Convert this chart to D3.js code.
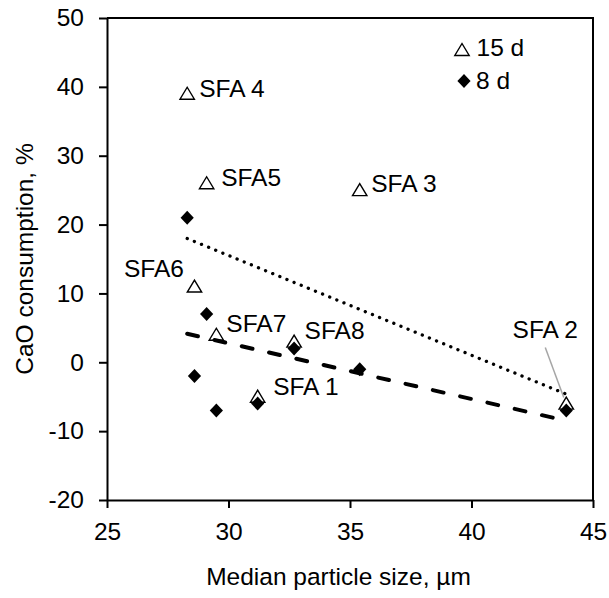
<!DOCTYPE html>
<html>
<head>
<meta charset="utf-8">
<script src="https://cdn.jsdelivr.net/npm/d3@7"></script>
<style>
  body { margin: 0; background: #fff; }
  text { font-family: "Liberation Sans", Arial, sans-serif; fill: #000; }
</style>
</head>
<body>
<div id="chart-area"></div>
<script>
const margin = {top:18, right:16, bottom:98, left:107};
const width = 609 - margin.left - margin.right;
const height = 598 - margin.top - margin.bottom;

// data
const samples    = ["SFA 1","SFA 2","SFA 3","SFA 4","SFA5","SFA6","SFA7","SFA8"];
const medianSize = [31.2, 43.9, 35.4, 28.3, 29.1, 28.6, 29.5, 32.7];
const cao15d     = [-5, -6, 25, 39, 26, 11, 4, 3];
const cao8d      = [-6, -7, -1, 21, 7, -2, -7, 2];
const xTicks = [25, 30, 35, 40, 45];
const yTicks = [-20, -10, 0, 10, 20, 30, 40, 50];
const seriesNames = ["15 d", "8 d"];

// label placement (pixels from the 15 d marker)
const labelPos = {
  "SFA 1": {dx:15.5, dy:-1.5, anchor:"start"},
  "SFA 2": {dx:-21, dy:-66, anchor:"middle", leader:[[-21,-56],[-2.5,-6]]},
  "SFA 3": {dx:11.5, dy:1.5, anchor:"start"},
  "SFA 4": {dx:12, dy:3.5, anchor:"start"},
  "SFA5":  {dx:14.5, dy:2.5, anchor:"start"},
  "SFA6":  {dx:-10.5, dy:-9.5, anchor:"end"},
  "SFA7":  {dx:10, dy:-2.5, anchor:"start"},
  "SFA8":  {dx:10.5, dy:-2.5, anchor:"start"}
};

const svg = d3.select("#chart-area").append("svg")
    .attr("width", 609)
    .attr("height", 598);
const g = svg.append("g")
    .attr("transform", "translate(" + margin.left + "," + margin.top + ")");

const x = d3.scaleLinear().domain([25,45]).range([0,width]);
const y = d3.scaleLinear().domain([-20,50]).range([height,0]);

const fs = "24.5px";

// axes (plain hyphen minus like the original)
const fmt = d => String(d);
const xAxis = g.append("g")
    .attr("transform", "translate(0," + height + ")")
    .call(d3.axisBottom(x).tickValues(xTicks).tickFormat(fmt).tickSize(8).tickSizeOuter(0).tickPadding(15));
const yAxis = g.append("g")
    .call(d3.axisLeft(y).tickValues(yTicks).tickFormat(fmt).tickSize(8).tickSizeOuter(0).tickPadding(15));
[xAxis, yAxis].forEach(a => {
  a.selectAll("path, line").attr("stroke", "#000").attr("stroke-width", 2);
  a.selectAll("text").style("font-size", fs).attr("fill", "#000")
    .style("font-family", "'Liberation Sans', Arial, sans-serif");
});

// top and right border
g.append("path")
  .attr("d", "M0,0H" + width + "V" + height)
  .attr("fill", "none").attr("stroke", "#000").attr("stroke-width", 2);

// axis titles
svg.append("text")
  .attr("x", 338.5).attr("y", 585)
  .attr("text-anchor", "middle").style("font-size", fs)
  .text("Median particle size, µm");
svg.append("text")
  .attr("transform", "translate(33," + (margin.top + height/2) + ") rotate(-90)")
  .attr("text-anchor", "middle").style("font-size", fs)
  .text("CaO consumption, %");

// linear trend lines
function trend(xs, ys) {
  const mx = d3.mean(xs), my = d3.mean(ys);
  const slope = d3.sum(xs, (v,i) => (v-mx)*(ys[i]-my)) / d3.sum(xs, v => (v-mx)*(v-mx));
  const ext = d3.extent(xs);
  return ext.map(v => [v, my + slope*(v-mx)]);
}
const line = d3.line().x(d => x(d[0])).y(d => y(d[1]));

const triPath = "M0,-6.5L7.2,5.5L-7.2,5.5Z";
const diaPath = "M0,-7L6.6,0L0,7L-6.6,0Z";

// 15 d markers
g.selectAll(".tri").data(samples).enter().append("path")
  .attr("class", "tri")
  .attr("transform", (d,i) => "translate(" + x(medianSize[i]) + "," + y(cao15d[i]) + ")")
  .attr("d", triPath).attr("fill", "#fff").attr("stroke", "#000").attr("stroke-width", 1.4);

// 8 d markers
g.selectAll(".dia").data(samples).enter().append("path")
  .attr("class", "dia")
  .attr("transform", (d,i) => "translate(" + x(medianSize[i]) + "," + y(cao8d[i]) + ")")
  .attr("d", diaPath).attr("fill", "#000");

g.append("path").datum(trend(medianSize, cao15d))
  .attr("d", line).attr("fill", "none").attr("stroke", "#000")
  .attr("stroke-width", 3.3).attr("stroke-linecap", "round")
  .attr("stroke-dasharray", "0.1 7.6");
g.append("path").datum(trend(medianSize, cao8d))
  .attr("d", line).attr("fill", "none").attr("stroke", "#000")
  .attr("stroke-width", 4).attr("stroke-linecap", "round")
  .attr("stroke-dasharray", "11 17");

// sample labels
samples.forEach((s, i) => {
  const p = labelPos[s];
  const px = x(medianSize[i]), py = y(cao15d[i]);
  if (p.leader) {
    g.append("line")
      .attr("x1", px + p.leader[0][0]).attr("y1", py + p.leader[0][1])
      .attr("x2", px + p.leader[1][0]).attr("y2", py + p.leader[1][1])
      .attr("stroke", "#a6a6a6").attr("stroke-width", 1.5);
  }
  g.append("text")
    .attr("x", px + p.dx).attr("y", py + p.dy)
    .attr("text-anchor", p.anchor).style("font-size", fs)
    .text(s);
});

// legend
const legend = g.append("g").attr("transform", "translate(" + (462 - margin.left) + "," + (50 - margin.top) + ")");
legend.append("path").attr("d", triPath).attr("fill", "#fff").attr("stroke", "#000").attr("stroke-width", 1.4);
legend.append("text").attr("x", 14.5).attr("y", 6).style("font-size", fs).text(seriesNames[0]);
legend.append("path").attr("transform", "translate(2,31)").attr("d", diaPath).attr("fill", "#000");
legend.append("text").attr("x", 14).attr("y", 39).style("font-size", fs).text(seriesNames[1]);
</script>
</body>
</html>
